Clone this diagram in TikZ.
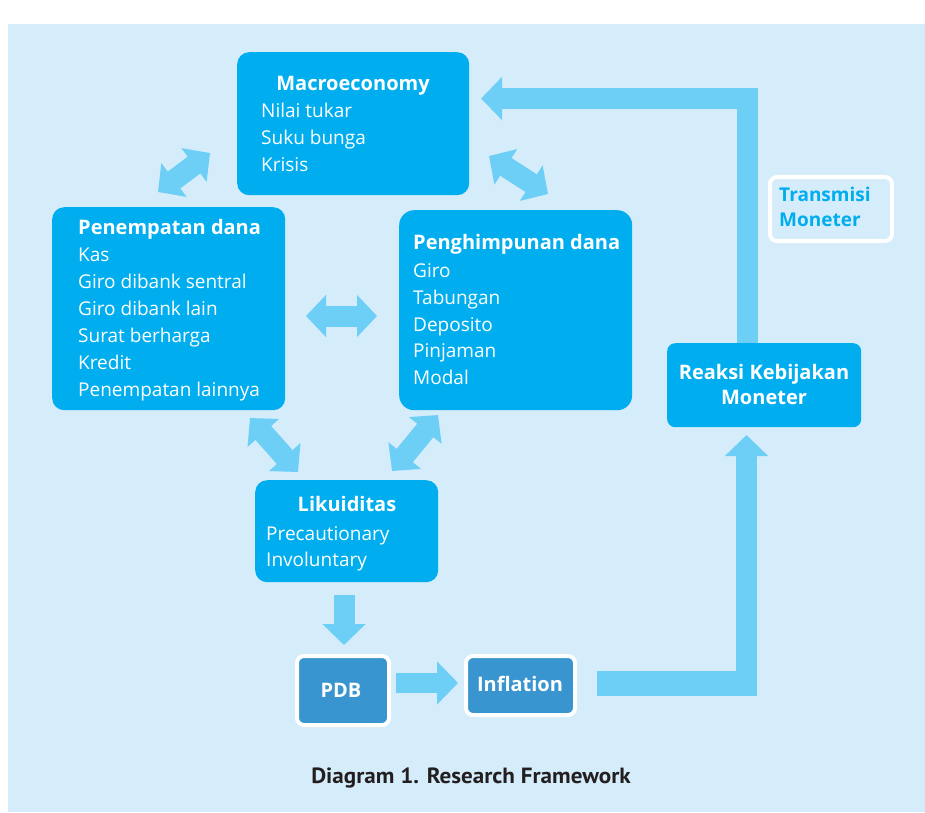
\documentclass[tikz,border=0pt]{standalone}
\usepackage{fontspec}
\setmainfont{Open Sans}
\newfontfamily\capfont{PT Sans}
\usetikzlibrary{arrows.meta}
\definecolor{bgc}{HTML}{D5ECFA}
\definecolor{boxc}{HTML}{00AEEF}
\definecolor{arrc}{HTML}{6DCFF6}
\definecolor{darkbox}{HTML}{3895CF}
\definecolor{capc}{HTML}{231F20}
\tikzset{
  bluebox/.style={fill=boxc, draw=none, rounded corners=12pt, inner sep=0pt},
  darkboxs/.style={fill=darkbox, draw=white, line width=4pt, rounded corners=7pt, inner sep=0pt},
  txt/.style={text=white, font=\fontsize{19}{26}\selectfont, inner sep=0pt, anchor=base west},
  ttl/.style={text=white, font=\fontsize{20}{26}\selectfont\bfseries, inner sep=0pt, anchor=base west},
  dbl/.style={draw=arrc, line width=21pt, {Triangle[length=20pt,width=41pt]}-{Triangle[length=20pt,width=41pt]}},
  sgl/.style={draw=arrc, line width=21pt, -{Triangle[length=21pt,width=42pt]}}
}
\begin{document}
\begin{tikzpicture}[x=1pt,y=-1pt]
\useasboundingbox (0,0) rectangle (925,812);
\fill[bgc] (8,24) rectangle (925,812);

% boxes
\node[bluebox, minimum width=232pt, minimum height=143pt, anchor=north west] (macro) at (237,52) {};
\node[bluebox, minimum width=233pt, minimum height=203pt, anchor=north west] (pen) at (52,207) {};
\node[bluebox, minimum width=233pt, minimum height=200pt, rounded corners=15pt, anchor=north west] (him) at (399,210) {};
\node[bluebox, minimum width=183pt, minimum height=102pt, anchor=north west] (lik) at (255,480) {};
\node[bluebox, minimum width=194pt, minimum height=84pt, rounded corners=8pt, anchor=north west] (reaksi) at (667,343) {};
\node[draw=white, line width=4pt, rounded corners=7pt, minimum width=122pt, minimum height=64pt, anchor=north west] (trans) at (768,175) {};
\node[darkboxs, minimum width=92pt, minimum height=69pt, anchor=north west] (pdb) at (295,654) {};
\node[darkboxs, minimum width=109pt, minimum height=59pt, anchor=north west] (infl) at (464,654) {};

% coordinates for connectors
\coordinate (a1s) at (158,192); \coordinate (a1e) at (210,153);
\coordinate (a2s) at (489,156); \coordinate (a2e) at (548,194);
\coordinate (a3s) at (306,316); \coordinate (a3e) at (377,316);
\coordinate (a4s) at (250,418); \coordinate (a4e) at (298,472);
\coordinate (a5s) at (438,415); \coordinate (a5e) at (392,471);
\coordinate (d1s) at (344,595); \coordinate (d1e) at (344,645);
\coordinate (r1s) at (396,683); \coordinate (r1e) at (458,683);
\coordinate (h1s) at (597,683.5); \coordinate (h1e) at (757,683.5);
\coordinate (v1s) at (746.5,696); \coordinate (v1e) at (746.5,435);
\coordinate (t1s) at (747,343); \coordinate (t1c) at (747,98.5); \coordinate (t1e) at (481,98.5);

\draw[dbl] (a1s) -- (a1e);
\draw[dbl] (a2s) -- (a2e);
\draw[dbl] (a3s) -- (a3e);
\draw[dbl] (a4s) -- (a4e);
\draw[dbl] (a5s) -- (a5e);
\draw[sgl] (d1s) -- (d1e);
\draw[sgl, line width=20pt] (r1s) -- (r1e);
\draw[draw=arrc, line width=25pt] (h1s) -- (h1e);
\draw[sgl] (v1s) -- (v1e);
\draw[sgl, line join=miter] (t1s) -- (t1c) -- (t1e);

% Macroeconomy
\node[ttl, anchor=base] (macrot) at (353,90) {Macroeconomy};
\node[txt] (m1) at (261,117) {Nilai tukar};
\node[txt] (m2) at (261,144) {Suku bunga};
\node[txt] (m3) at (261,171) {Krisis};

% Penempatan dana
\node[ttl] (pent) at (78,234) {Penempatan dana};
\node[txt] (p1) at (78,261) {Kas};
\node[txt] (p2) at (78,288) {Giro dibank sentral};
\node[txt] (p3) at (78,315) {Giro dibank lain};
\node[txt] (p4) at (78,342) {Surat berharga};
\node[txt] (p5) at (78,369) {Kredit};
\node[txt] (p6) at (78,396) {Penempatan lainnya};

% Penghimpunan dana
\node[ttl] (himt) at (413,249) {Penghimpunan dana};
\node[txt] (h1) at (413,277) {Giro};
\node[txt] (h2) at (413,304) {Tabungan};
\node[txt] (h3) at (413,331) {Deposito};
\node[txt] (h4) at (413,357) {Pinjaman};
\node[txt] (h5) at (413,384) {Modal};

% Likuiditas
\node[ttl, anchor=base] (likt) at (347,511) {Likuiditas};
\node[txt] (l1) at (266,540) {Precautionary};
\node[txt] (l2) at (266,566) {Involuntary};

% Reaksi
\node[ttl, anchor=base] (re1) at (764,379) {Reaksi Kebijakan};
\node[ttl, anchor=base] (re2) at (764,404) {Moneter};

% Transmisi
\node[ttl, font=\fontsize{19}{26}\selectfont\bfseries, text=boxc, anchor=base west] (tr1) at (779,201) {Transmisi};
\node[ttl, font=\fontsize{19}{26}\selectfont\bfseries, text=boxc, anchor=base west] (tr2) at (779,226) {Moneter};

% PDB, Inflation
\node[ttl, anchor=base] (pdbt) at (341,697) {PDB};
\node[ttl, anchor=base] (inft) at (520,691) {Inflation};

% caption
\node[text=capc, font=\capfont\fontsize{22}{24}\selectfont\bfseries, inner sep=0pt, anchor=base] (cap) at (471,783) {\scalebox{1.05}[1]{Diagram 1. Research Framework}};
\end{tikzpicture}
\end{document}
